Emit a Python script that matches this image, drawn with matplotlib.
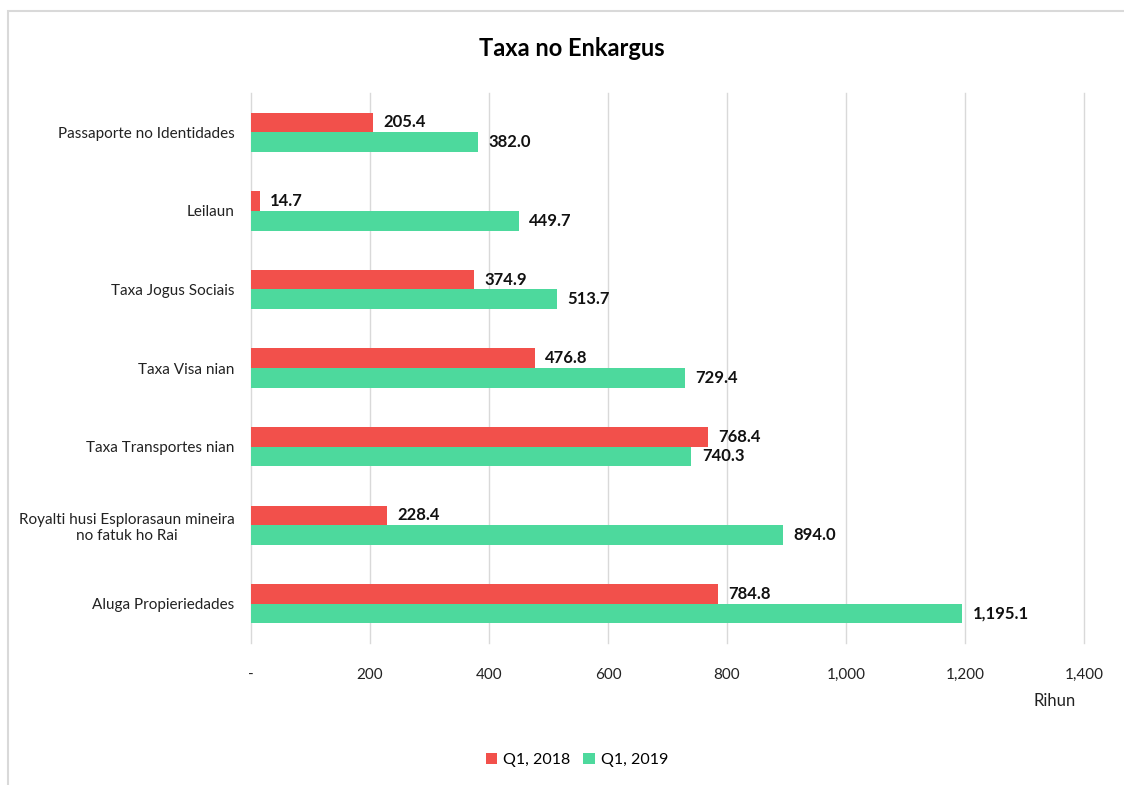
import numpy as np
from matplotlib import pyplot as plt
from matplotlib.patches import Rectangle
from matplotlib.ticker import FuncFormatter

plt.rcParams['font.family'] = ['Lato', 'DejaVu Sans']

categories = ['Passaporte no Identidades', 'Leilaun', 'Taxa Jogus Sociais', 'Taxa Visa nian',
              'Taxa Transportes nian', 'Royalti husi Esplorasaun mineira\nno fatuk ho Rai',
              'Aluga Propieriedades']
q1_2018 = [205.4, 14.7, 374.9, 476.8, 768.4, 228.4, 784.8]
q1_2019 = [382.0, 449.7, 513.7, 729.4, 740.3, 894.0, 1195.1]
series_names = ['Q1, 2018', 'Q1, 2019']
xticks = [0, 200, 400, 600, 800, 1000, 1200, 1400]

red = '#F2504B'
green = '#4DD99D'

fig = plt.figure(figsize=(11.24, 7.85), dpi=100)
ax = fig.add_axes([251/1124, 1-643/785, (1084-251)/1124, (643-93)/785])

y = np.arange(len(categories))
h = 0.25
b1 = ax.barh(y - h/2, q1_2018, height=h, color=red, label=series_names[0], zorder=2)
b2 = ax.barh(y + h/2, q1_2019, height=h, color=green, label=series_names[1], zorder=2)

for bars, vals in [(b1, q1_2018), (b2, q1_2019)]:
    for bar, v in zip(bars, vals):
        ax.annotate(f'{v:,.1f}', (v, bar.get_y() + bar.get_height()/2),
                    xytext=(7.5, 0), textcoords='offset points', va='center', ha='left',
                    fontsize=12, fontweight='bold', color='#111111')

ax.set_xlim(0, 1400)
ax.set_ylim(len(categories) - 0.5, -0.5)
ax.set_xticks(xticks)
ax.xaxis.set_major_formatter(FuncFormatter(lambda v, p: '-' if v == 0 else f'{v:,.0f}'))
ax.set_yticks(y)
ax.set_yticklabels(categories, fontsize=11, color='#222222', multialignment='center')
ax.tick_params(axis='x', labelsize=11, colors='#222222', length=0, pad=18)
ax.tick_params(axis='y', length=0, pad=12)
ax.grid(axis='x', color='#D9D9D9', linewidth=1, zorder=0)
for gl in ax.get_xgridlines():
    gl.set_clip_on(False)
for s in ax.spines.values():
    s.set_visible(False)

fig.text(1055/1124, 1-701/785, 'Rihun', ha='center', va='center', fontsize=12, color='#222222')
fig.text(572/1124, 1-48/785, 'Taxa no Enkargus', ha='center', va='center', fontsize=17, fontweight='bold')
fig.legend(loc='center', bbox_to_anchor=(577/1124, 1-760/785), ncol=2, frameon=False,
           fontsize=11.5, handlelength=0.7, handleheight=0.7, handletextpad=0.4, columnspacing=0.8)

fig.patches.append(Rectangle((8/1124, -0.01), 1.1, 1-11/785 + 0.01, transform=fig.transFigure,
                             fill=False, edgecolor='#D9D9D9', linewidth=1.5))

plt.savefig('out.png', dpi=100)
